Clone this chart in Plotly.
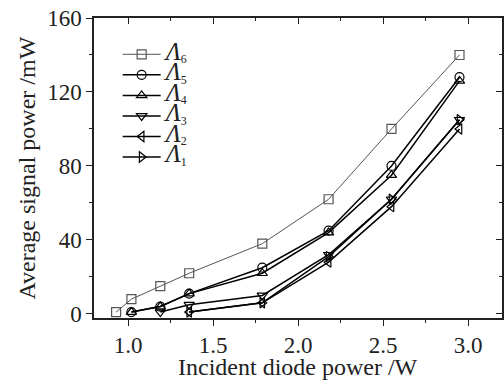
import plotly.graph_objects as go

x6 = [0.93, 1.02, 1.19, 1.36, 1.79, 2.18, 2.55, 2.95]
y6 = [1, 8, 15, 22, 38, 62, 100, 140]
x5 = [1.02, 1.19, 1.36, 1.79, 2.18, 2.55, 2.95]
y5 = [1, 4, 11, 25, 45, 80, 128]
x4 = [1.02, 1.19, 1.36, 1.79, 2.18, 2.55, 2.95]
y4 = [1, 4, 11, 22, 44, 75, 126]
x3 = [1.19, 1.36, 1.79, 2.18, 2.55, 2.95]
y3 = [1, 5, 10, 32, 62, 105]
x2 = [1.36, 1.79, 2.18, 2.55, 2.95]
y2 = [1, 6, 28, 58, 100]
x1 = [1.36, 1.79, 2.18, 2.55, 2.95]
y1 = [1, 6, 31, 62, 105]

x_ticks = [1.0, 1.5, 2.0, 2.5, 3.0]
x_ticktext = ["1.0", "1.5", "2.0", "2.5", "3.0"]
y_ticks = [0, 40, 80, 120, 160]

series = [
    ("6", x6, y6, "square-open", "#555555", 1.0),
    ("5", x5, y5, "circle-open", "black", 1.5),
    ("4", x4, y4, "triangle-up-open", "black", 1.5),
    ("3", x3, y3, "triangle-down-open", "black", 1.5),
    ("2", x2, y2, "triangle-left-open", "black", 1.5),
    ("1", x1, y1, "triangle-right-open", "black", 1.5),
]

FONT = "Liberation Serif, Times New Roman, serif"
fig = go.Figure()
for sub, xs, ys, sym, col, lw in series:
    fig.add_trace(go.Scatter(
        x=xs, y=ys, mode="lines+markers",
        name=f"<span style='font-size:25px'><i>Λ</i></span><span style='font-size:17px'><sub>{sub}</sub></span>",
        line=dict(color=col, width=lw),
        marker=dict(symbol=sym, size=9, color=col, line=dict(color=col, width=1.2)),
    ))
# invisible copy on the mirrored axes so that their inward ticks get drawn
fig.add_trace(go.Scatter(x=x6, y=y6, xaxis="x2", yaxis="y2", mode="markers",
                         marker=dict(opacity=0), showlegend=False, hoverinfo="skip"))

XR = [0.8, 3.2]
YR = [-2.2, 160]
axcommon = dict(showline=True, linecolor="#222", linewidth=1.5, showgrid=False, zeroline=False,
                tickcolor="#222", tickwidth=1.2, automargin=False,
                tickfont=dict(family=FONT, size=23, color="#222"))
fig.update_layout(
    width=504, height=381,
    margin=dict(l=94, r=2, t=18, b=63),
    plot_bgcolor="white", paper_bgcolor="white",
    font=dict(family=FONT, color="#222"),
    showlegend=True,
    legend=dict(x=0.058, y=0.93, xanchor="left", yanchor="top", bgcolor="rgba(0,0,0,0)",
                itemwidth=38,
                font=dict(family=FONT, size=13.5, color="#222"), tracegroupgap=0),
    xaxis=dict(range=XR, tickvals=x_ticks, ticktext=x_ticktext,
               ticks="outside", ticklen=6,
               minor=dict(dtick=0.25, tick0=0, ticks="outside", ticklen=3, tickcolor="#222"),
               **axcommon),
    yaxis=dict(range=YR, tickvals=y_ticks,
               ticks="outside", ticklen=6,
               minor=dict(dtick=20, tick0=0, ticks="outside", ticklen=3, tickcolor="#222"),
               **axcommon),
    xaxis2=dict(overlaying="x", side="top", anchor="y2", range=XR, showticklabels=False,
                tickvals=x_ticks, ticks="inside", ticklen=6, automargin=False,
                minor=dict(dtick=0.25, tick0=0, ticks="inside", ticklen=3, tickcolor="#222"),
                showline=True, linecolor="#222", linewidth=1.5, showgrid=False, zeroline=False, tickcolor="#222", tickwidth=1.2),
    yaxis2=dict(overlaying="y", side="right", anchor="x2", range=YR, showticklabels=False,
                tickvals=y_ticks, ticks="inside", ticklen=6, automargin=False,
                minor=dict(dtick=20, tick0=0, ticks="inside", ticklen=3, tickcolor="#222"),
                showline=True, linecolor="#222", linewidth=1.5, showgrid=False, zeroline=False, tickcolor="#222", tickwidth=1.2),
    annotations=[
        dict(text="Incident diode power /W", xref="paper", yref="paper", x=0.5, y=-0.163,
             xanchor="center", yanchor="middle", showarrow=False,
             font=dict(family=FONT, size=24, color="#222")),
        dict(text="Average signal power /mW", xref="paper", yref="paper", x=-0.163, y=0.5,
             xanchor="center", yanchor="middle", showarrow=False, textangle=-90,
             font=dict(family=FONT, size=24, color="#222")),
    ],
)
fig.write_html("out.html", config={"displayModeBar": False},
               post_script="document.body.style.margin='0';document.body.style.overflow='hidden';")
